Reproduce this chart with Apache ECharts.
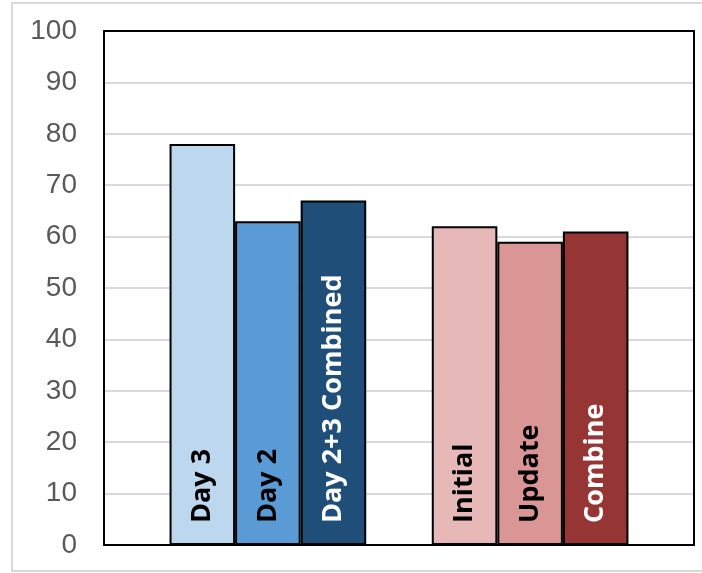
<!DOCTYPE html>
<html>
<head>
<meta charset="utf-8">
<script src="https://cdn.jsdelivr.net/npm/echarts@6/dist/echarts.min.js"></script>
<style>
  html, body { margin: 0; padding: 0; background: #ffffff; }
  #chart { width: 702px; height: 573px; }
</style>
</head>
<body>
<div id="chart"></div>
<script>
// Bar groups: blue (days) and red (initial / update / combine), with empty slots between
const categories = ['', 'Day 3', 'Day 2', 'Day 2+3 Combined', ' ', 'Initial', 'Update', 'Combine', '  '];
const values = [null, 78, 63, 67, null, 62, 59, 61, null];
const barColors = [null, '#BDD7EE', '#5B9BD5', '#1F4E79', null, '#E6B8B7', '#DA9694', '#963634', null];
const labelColors = [null, '#000000', '#000000', '#ffffff', null, '#000000', '#000000', '#ffffff', null];
const yTicks = { min: 0, max: 100, interval: 10 };

const W = 702, H = 573;
const grid = { left: 104, right: 8, top: 31, bottom: 28 };

const chart = echarts.init(document.getElementById('chart'));

const seriesData = values.map((v, i) => {
  if (v === null) return '-';
  return {
    value: v,
    itemStyle: { color: barColors[i] },
    label: { color: labelColors[i] }
  };
});

chart.setOption({
  animation: false,
  graphic: [
    {
      // light outer frame around the whole chart
      type: 'rect',
      shape: { x: 12, y: 3, width: 720, height: 568 },
      style: { fill: 'none', stroke: '#d9d9d9', lineWidth: 2 },
      silent: true,
      z: -1
    },
    {
      // black plot-area border, drawn above gridlines
      type: 'rect',
      shape: {
        x: grid.left, y: grid.top,
        width: W - grid.left - grid.right,
        height: H - grid.top - grid.bottom
      },
      style: { fill: 'none', stroke: '#000000', lineWidth: 2 },
      silent: true,
      z: 100
    }
  ],
  grid: grid,
  xAxis: {
    type: 'category',
    data: categories,
    axisLine: { show: false },
    axisTick: { show: false },
    axisLabel: { show: false },
    splitLine: { show: false }
  },
  yAxis: {
    type: 'value',
    min: yTicks.min, max: yTicks.max, interval: yTicks.interval,
    axisLine: { show: false },
    axisTick: { show: false },
    axisLabel: {
      margin: 27,
      color: '#595959',
      fontSize: 28,
      fontFamily: 'Liberation Sans, Arial, sans-serif'
    },
    splitLine: { lineStyle: { color: '#d9d9d9', width: 2 } }
  },
  series: [{
    type: 'bar',
    barWidth: '100%',
    data: seriesData,
    itemStyle: { borderColor: '#000000', borderWidth: 2 },
    label: {
      show: true,
      position: 'insideBottom',
      rotate: 90,
      align: 'left',
      verticalAlign: 'middle',
      distance: 22,
      fontSize: 27,
      fontWeight: 'bold',
      fontFamily: 'Open Sans, sans-serif',
      formatter: (p) => categories[p.dataIndex]
    }
  }]
});
</script>
</body>
</html>
